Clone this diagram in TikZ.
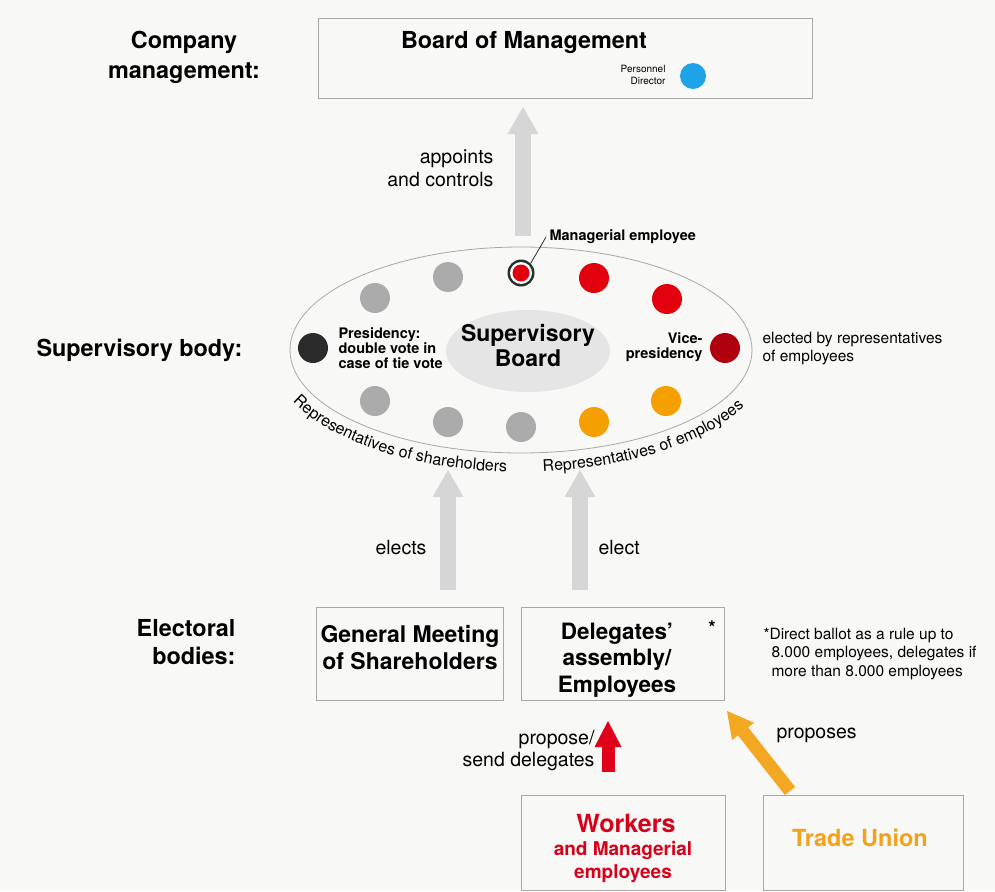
\documentclass[tikz,border=0pt]{standalone}
\usepackage{fontspec}
\setmainfont{TeX Gyre Heros}
\usetikzlibrary{shapes.geometric,arrows.meta,decorations.text}
\definecolor{bg}{HTML}{F8F8F6}
\definecolor{boxgray}{HTML}{A8A8A8}
\definecolor{arrgray}{HTML}{D6D6D6}
\definecolor{dotgray}{HTML}{ABABAB}
\definecolor{dotred}{HTML}{E2000F}
\definecolor{dotdred}{HTML}{B0000E}
\definecolor{dotorange}{HTML}{F5A000}
\definecolor{dotblack}{HTML}{2B2B2B}
\definecolor{dotblue}{HTML}{1EA3E6}
\definecolor{txtred}{HTML}{D7001A}
\definecolor{txtorange}{HTML}{F2A21C}
\definecolor{arrred}{HTML}{E0001A}
\definecolor{arrorange}{HTML}{F4A723}
\definecolor{ringdark}{HTML}{26302A}
\begin{document}
\begin{tikzpicture}[x=1pt,y=1pt,
  box/.style={draw=boxgray,line width=0.8pt,inner sep=0pt},
  dot/.style={circle,inner sep=0pt,minimum size=30pt},
  biglabel/.style={font=\bfseries\fontsize{23.4}{30}\selectfont},
  bigarrow/.style={draw=arrgray,line width=16pt,-{Triangle[width=31pt,length=27pt,line width=0pt]}},
  redarrow/.style={draw=arrred,line width=13pt,-{Triangle[width=27pt,length=26pt,line width=0pt]}},
  orarrow/.style={draw=arrorange,line width=13pt,-{Triangle[width=28pt,length=26pt,line width=0pt]}},
  plain/.style={font=\fontsize{19.5}{23}\selectfont},
  small/.style={font=\fontsize{15.5}{18}\selectfont},
  smallbold/.style={font=\bfseries\fontsize{14.5}{15}\selectfont}
]
\useasboundingbox[fill=bg] (0,0) rectangle (995,-891);

% left labels
\node[biglabel,align=center] (lcm) at (184,-57) {Company\\management:};
\node[biglabel,anchor=west] (lsb) at (33,-350) {Supervisory body:};
\node[biglabel,align=right,anchor=east,font=\bfseries\fontsize{23.4}{28}\selectfont] (leb) at (239,-642) {Electoral\\bodies:};

% board of management
\node[box,minimum width=494pt,minimum height=80pt] (bom) at (565,-58) {};
\node[biglabel] (bomt) at (524,-43) {Board of Management};
\node[align=right,anchor=east,font=\fontsize{10}{12}\selectfont] (pers) at (669,-75) {Personnel\\Director};
\node[dot,minimum size=26pt,fill=dotblue] (pd) at (693,-76) {};

% appoints arrow
\coordinate (aptail) at (523,-236);
\coordinate (aptip) at (523,-107);
\draw[bigarrow] (aptail) -- (aptip);
\node[plain,align=right,anchor=east] (apl) at (497,-168) {appoints\\and controls};

% supervisory board ellipse
\node[ellipse,draw=boxgray,line width=0.8pt,minimum width=462pt,minimum height=206pt,inner sep=0pt] (sup) at (521,-350) {};
\node[ellipse,fill=black!10,minimum width=164pt,minimum height=82pt,inner sep=0pt] (supin) at (528,-351) {};
\node[font=\bfseries\fontsize{23}{25}\selectfont,align=center] (supt) at (528,-346) {Supervisory\\Board};

% dots
\node[dot,fill=dotgray] (d1) at (375,-298) {};
\node[dot,fill=dotgray] (d2) at (448,-277) {};
\node[dot,minimum size=27pt,fill=ringdark] (d3) at (521,-273) {};
\node[dot,minimum size=22pt,fill=white] (d3w) at (521,-273) {};
\node[dot,minimum size=17pt,fill=dotred] (d3r) at (521,-273) {};
\node[dot,fill=dotred] (d4) at (594,-278) {};
\node[dot,fill=dotred] (d5) at (667,-299) {};
\node[dot,fill=dotdred] (d6) at (725,-348) {};
\node[dot,fill=dotorange] (d7) at (666,-401) {};
\node[dot,fill=dotorange] (d8) at (594,-422) {};
\node[dot,fill=dotgray] (d9) at (521,-427) {};
\node[dot,fill=dotgray] (d10) at (448,-422) {};
\node[dot,fill=dotgray] (d11) at (375,-401) {};
\node[dot,fill=dotblack] (d12) at (313,-348) {};

\node[smallbold,anchor=west] (mgl) at (546,-237) {Managerial employee};
\draw[ringdark,line width=0.8pt] (d3.north east) -- (mgl.west);

\node[smallbold,align=left,anchor=west] (pres) at (335,-348) {Presidency:\\double vote in\\case of tie vote};
\node[smallbold,align=right,anchor=east] (vice) at (706,-347) {Vice-\\presidency};
\node[small,align=left,anchor=west] (elby) at (759,-349) {elected by representatives\\of employees};

% curved labels
\path[decorate,decoration={text along path,text align=left,
  text={|\fontsize{16}{17}\selectfont|Representatives of shareholders}}]
  [shift={(521,-350)}] (205:252pt and 122pt) arc[start angle=205,end angle=290,x radius=252pt,y radius=122pt];
\path[decorate,decoration={text along path,text align=left,
  text={|\fontsize{16}{17}\selectfont|Representatives of employees}}]
  [shift={(521,-350)}] (275:252pt and 122pt) arc[start angle=275,end angle=352,x radius=252pt,y radius=122pt];

% electoral bodies
\node[box,minimum width=187pt,minimum height=93pt] (gm) at (409.5,-653.5) {};
\node[font=\bfseries\fontsize{23}{27}\selectfont,align=center] (gmt) at (410,-648) {General Meeting\\of Shareholders};
\node[box,minimum width=203pt,minimum height=93pt] (del) at (622.5,-653.5) {};
\node[font=\bfseries\fontsize{22.5}{26.5}\selectfont,align=center] (delt) at (617,-660) {Delegates'\\assembly/\\Employees};
\node[font=\bfseries\fontsize{19}{20}\selectfont] (ast) at (712,-628) {*};
\node[small,align=left,anchor=west,font=\fontsize{15.5}{18.5}\selectfont] (foot) at (760,-654) {*Direct ballot as a rule up to\\\hspace*{8pt}8.000 employees, delegates if\\\hspace*{8pt}more than 8.000 employees};

% elect arrows
\coordinate (e1tail) at (448,-590);
\coordinate (e1tip) at (448,-470);
\coordinate (e2tail) at (580,-590);
\coordinate (e2tip) at (580,-470);
\draw[bigarrow] (e1tail) -- (e1tip);
\draw[bigarrow] (e2tail) -- (e2tip);
\node[plain,anchor=east] (el1) at (430,-548) {elects};
\node[plain,anchor=west] (el2) at (595,-548) {elect};

% bottom
\node[box,minimum width=204pt,minimum height=95pt] (wk) at (623,-842.5) {};
\node[box,minimum width=200pt,minimum height=95pt] (tu) at (863,-842.5) {};
\node[font=\bfseries\fontsize{25}{26}\selectfont,text=txtred] (wkt) at (626,-823) {Workers};
\node[font=\bfseries\fontsize{19}{23}\selectfont,text=txtred,align=center] (wkt2) at (623,-862) {and Managerial\\employees};
\node[font=\bfseries\fontsize{23.5}{26}\selectfont,text=txtorange] (tut) at (860,-838) {Trade Union};

\coordinate (rtail) at (608,-772);
\coordinate (rtip) at (608,-721);
\draw[redarrow] (rtail) -- (rtip);
\node[plain,align=right,anchor=east,font=\fontsize{19.5}{22}\selectfont] (prl) at (598,-751) {propose/\\send delegates};
\coordinate (otail) at (790,-791);
\coordinate (otip) at (727,-711);
\draw[orarrow] (otail) -- (otip);
\node[plain,anchor=west] (ppl) at (773,-735) {proposes};
\end{tikzpicture}
\end{document}
